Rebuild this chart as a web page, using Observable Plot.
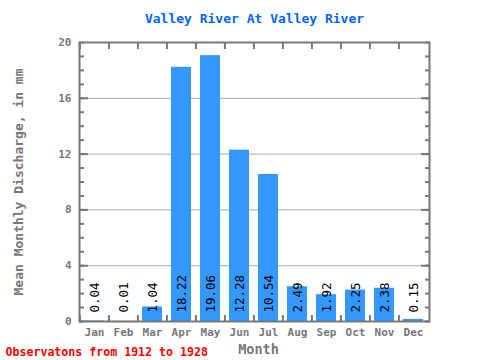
<!DOCTYPE html>
<html><head>
<meta charset="utf-8">
<script src="https://cdn.jsdelivr.net/npm/d3@7"></script>
<script src="https://cdn.jsdelivr.net/npm/@observablehq/plot@0.6"></script>
<style>body{margin:0;background:#fff} svg{display:block}</style>
</head><body>
<div id="chart"></div>
<script>
const months = ["Jan","Feb","Mar","Apr","May","Jun","Jul","Aug","Sep","Oct","Nov","Dec"];
const discharge = [0.04,0.01,1.04,18.22,19.06,12.28,10.54,2.49,1.92,2.25,2.38,0.15];
const valueLabels = ["0.04","0.01","1.04","18.22","19.06","12.28","10.54","2.49","1.92","2.25","2.38","0.15"];
const yTicks = [0,4,8,12,16,20];
const gridTicks = [4,8,12,16];
const minorTicks = [0,1,2,3,4,5,6,7,8,9,10,11,12,13,14,15,16,17,18,19,20];
const title = "Valley River At Valley River";
const yLabel = "Mean Monthly Discharge, in mm";
const xLabel = "Month";
const caption = "Observatons from 1912 to 1928";

const data = months.map((m, i) => ({month: m, value: discharge[i], label: valueLabels[i]}));

const W = 480, H = 360, ML = 79, MR = 51, MT = 42, MB = 39;
const step = (W - ML - MR) / months.length;
const gray = "#777";
const font = "DejaVu Sans Mono";

const chart = Plot.plot({
  width: W, height: H,
  marginLeft: ML, marginRight: MR, marginTop: MT, marginBottom: MB,
  style: {fontFamily: font, background: "#fff"},
  x: {type: "band", domain: months, paddingInner: 0.3, paddingOuter: 0.15},
  y: {domain: [0, 20]},
  marks: [
    Plot.ruleY(gridTicks, {stroke: "#aaa", strokeWidth: 1}),
    Plot.barY(data, {x: "month", y: "value", fill: "#3399ff"}),
    Plot.text(data, {x: "month", text: "label", frameAnchor: "bottom", rotate: -90, textAnchor: "start", lineAnchor: "middle", dy: -9, fontSize: 12.5, fill: "#000"}),
    Plot.axisY(minorTicks, {anchor: "left", tickSize: -5, tickFormat: () => "", stroke: gray, strokeWidth: 2, label: null}),
    Plot.axisY(minorTicks, {anchor: "right", tickSize: -5, tickFormat: () => "", stroke: gray, strokeWidth: 2, label: null}),
    Plot.axisY(gridTicks, {anchor: "left", tickSize: -9, tickFormat: () => "", stroke: gray, strokeWidth: 2, label: null}),
    Plot.axisY(gridTicks, {anchor: "right", tickSize: -9, tickFormat: () => "", stroke: gray, strokeWidth: 2, label: null}),
    Plot.axisY(yTicks, {anchor: "left", tickSize: 0, tickPadding: 8, fontSize: 11, fontWeight: "bold", fill: gray, label: null}),
    Plot.axisX({anchor: "bottom", tickSize: -6, dx: -step / 2, tickFormat: () => "", stroke: gray, strokeWidth: 2, label: null}),
    Plot.axisX({anchor: "top", tickSize: -6, dx: -step / 2, tickFormat: () => "", stroke: gray, strokeWidth: 2, label: null}),
    Plot.axisX({anchor: "bottom", tickSize: 0, tickPadding: 7, fontSize: 11, fontWeight: "bold", fill: gray, label: null}),
    Plot.frame({stroke: gray, strokeWidth: 2}),
    Plot.text([title], {text: d => d, frameAnchor: "top", lineAnchor: "middle", dy: -24, fontSize: 13, fontWeight: "bold", fill: "#0066ff"}),
    Plot.text([yLabel], {text: d => d, frameAnchor: "left", textAnchor: "middle", lineAnchor: "middle", rotate: -90, dx: -61, fontSize: 13, fontWeight: "bold", fill: gray}),
    Plot.text([xLabel], {text: d => d, frameAnchor: "bottom", lineAnchor: "middle", dx: 4, dy: 28, fontSize: 13.5, fontWeight: "bold", fill: gray}),
    Plot.text([caption], {text: d => d, frameAnchor: "bottom-left", textAnchor: "start", lineAnchor: "middle", dx: -74, dy: 31, fontSize: 11.6, fontWeight: "bold", fill: "#ff0000"})
  ]
});
document.getElementById("chart").appendChild(chart);
</script>
</body></html>
